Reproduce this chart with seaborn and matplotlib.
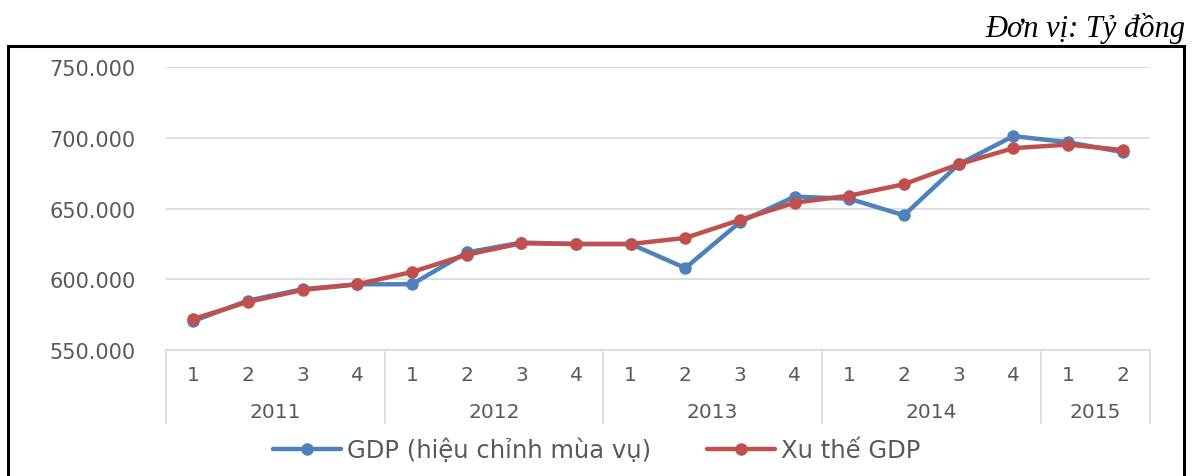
import matplotlib
matplotlib.use("Agg")
import matplotlib.pyplot as plt
from matplotlib.patches import Rectangle
from matplotlib.lines import Line2D
import numpy as np
import pandas as pd
import seaborn as sns

# Quarterly GDP, 2011Q1 - 2015Q2 (tỷ đồng)
years = [2011] * 4 + [2012] * 4 + [2013] * 4 + [2014] * 4 + [2015] * 2
quarters = [1, 2, 3, 4, 1, 2, 3, 4, 1, 2, 3, 4, 1, 2, 3, 4, 1, 2]
gdp_sa = [570500, 585000, 593000, 596500, 596500, 619000, 626000, 625000, 625000,
          608000, 640500, 658500, 657000, 645300, 681400, 701300, 697000, 690000]
gdp_trend = [572000, 584000, 592500, 596500, 605200, 617400, 625500, 625000, 625000,
             629300, 642000, 654200, 659200, 667300, 681400, 692800, 695300, 691500]
series_names = ["GDP (hiệu chỉnh mùa vụ)", "Xu thế GDP"]
unit_label = "Đơn vị: Tỷ đồng"
y_ticks = [550000, 600000, 650000, 700000, 750000]

blue = "#4F81BD"
red = "#C0504D"
text_grey = "#595959"
grid_grey = "#D9D9D9"

pos = np.arange(len(quarters))
df = pd.DataFrame({
    "pos": np.concatenate([pos, pos]),
    "value": gdp_sa + gdp_trend,
    "series": [series_names[0]] * len(pos) + [series_names[1]] * len(pos),
})

sns.set_theme(style="white")
plt.rcParams["font.family"] = ["DejaVu Sans"]

W, H = 1195, 477
fig = plt.figure(figsize=(W / 100, H / 100), dpi=100)
ax = fig.add_axes([166 / W, 1 - 351 / H, 984 / W, 282.7 / H])

sns.lineplot(data=df, x="pos", y="value", hue="series",
             palette=[blue, red], marker="o", markersize=9,
             markeredgewidth=0, linewidth=3.2, legend=False, ax=ax)

ax.set_xlim(-0.5, len(pos) - 0.5)
ax.set_ylim(y_ticks[0], y_ticks[-1])
ax.set_yticks(y_ticks)
ax.set_yticklabels([f"{v:,.0f}".replace(",", ".") for v in y_ticks],
                   color=text_grey, fontsize=15)
ax.tick_params(axis="y", length=0, pad=22)
ax.grid(axis="y", color=grid_grey, linewidth=1.2)
ax.set_axisbelow(True)
for side in ["left", "right", "top"]:
    ax.spines[side].set_visible(False)
ax.spines["bottom"].set_color(grid_grey)
ax.spines["bottom"].set_linewidth(1.2)
ax.set_xlabel("")
ax.set_ylabel("")

# two-level category axis: quarters on the first row, years below
ax.set_xticks(pos)
ax.set_xticklabels([str(q) for q in quarters], color=text_grey, fontsize=14.5)
ax.tick_params(axis="x", length=0, pad=11)

xt = ax.get_xaxis_transform()
year_arr = np.array(years)
bounds = [-0.5]
for y in sorted(set(years)):
    idx = pos[year_arr == y]
    ax.text(idx.mean(), -0.218, str(y), transform=xt, ha="center", va="center",
            color=text_grey, fontsize=14.5)
    bounds.append(idx.max() + 0.5)
for b in bounds:
    ax.plot([b, b], [0, -0.258], transform=xt, color=grid_grey,
            linewidth=1.2, clip_on=False)

# legend under the chart
handles = [Line2D([], [], color=c, linewidth=3.2, marker="o", markersize=9,
                  markeredgewidth=0) for c in (blue, red)]
leg = fig.legend(handles, series_names, loc="center",
                 bbox_to_anchor=(597 / W, 1 - 451 / H), ncol=2, frameon=False,
                 fontsize=17.5, handlelength=2.8, handletextpad=0.25,
                 columnspacing=2.3, markerscale=1)
for t in leg.get_texts():
    t.set_color(text_grey)

# outer frame and unit note
fig.add_artist(Rectangle((8 / W, -0.2), (1184 - 8) / W, 1.2 - 47 / H,
                         transform=fig.transFigure, fill=False,
                         edgecolor="black", linewidth=2.2))
fig.text(1185 / W, 1 - 29 / H, unit_label, ha="right", va="center",
         family=["Liberation Serif", "DejaVu Serif"], style="italic",
         fontsize=22, color="black")

fig.savefig("out.png", dpi=100, facecolor="white")
